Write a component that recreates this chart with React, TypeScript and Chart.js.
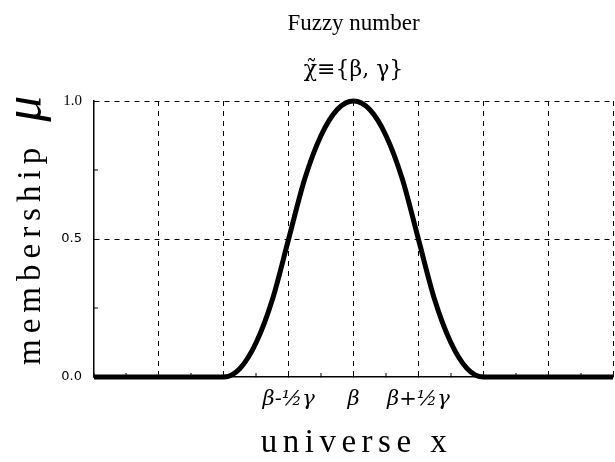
import React, { useEffect, useRef } from "react";
import { Chart, registerables } from "chart.js";

Chart.register(...registerables);

// Membership curve of the fuzzy number (universe position → μ)
const X_VALUES = [0, 1, 2, 2.25, 2.5, 2.75, 3, 3.25, 3.5, 3.75, 4, 4.25, 4.5, 4.75, 5, 5.25, 5.5, 5.75, 6, 7, 8];
const MU_VALUES = [0, 0, 0, 0.031, 0.125, 0.281, 0.5, 0.719, 0.875, 0.969, 1, 0.969, 0.875, 0.719, 0.5, 0.281, 0.125, 0.031, 0, 0, 0];

// Labelled positions on the universe axis
const X_TICK_VALUES = [3, 4, 5];
const X_TICK_LABELS = ["β-½γ", "β", "β+½γ"];

// Labelled membership levels
const Y_TICK_VALUES = [0, 0.5, 1];
const Y_TICK_LABELS = ["0.0", "0.5", "1.0"];

const TITLE = "Fuzzy number";
const SUBTITLE = "χ̃≡{β, γ}";
const X_TITLE = "universe x";
const Y_TITLE = "membership";
const Y_SYMBOL = "μ";

const SERIF = '"Liberation Serif", "DejaVu Serif", serif';
const WIDE_SERIF = '"DejaVu Serif", "Liberation Serif", serif';

// Draws the two axis captions with widened letter spacing
const axisCaptions = {
  id: "axisCaptions",
  afterDraw(chart: any) {
    const { ctx, chartArea } = chart;
    ctx.save();
    ctx.fillStyle = "#000";
    ctx.textBaseline = "alphabetic";

    // horizontal caption
    ctx.font = `33px ${SERIF}`;
    (ctx as any).letterSpacing = "5.5px";
    ctx.textAlign = "center";
    ctx.fillText(X_TITLE, (chartArea.left + chartArea.right) / 2 + 3, chart.height - 10);

    // vertical caption, reading upwards
    ctx.translate(40, chartArea.bottom - 12);
    ctx.rotate(-Math.PI / 2);
    ctx.textAlign = "left";
    ctx.font = `33px ${SERIF}`;
    (ctx as any).letterSpacing = "6px";
    ctx.fillText(Y_TITLE, 0, 0);
    const w = ctx.measureText(Y_TITLE).width;
    (ctx as any).letterSpacing = "0px";
    ctx.font = `italic 52px ${SERIF}`;
    ctx.fillText(Y_SYMBOL, w + 20, 0);
    ctx.restore();
  },
};

export default function App() {
  const ref = useRef<HTMLCanvasElement | null>(null);

  useEffect(() => {
    document.body.style.margin = "0";
    const canvas = ref.current;
    if (!canvas) return;

    const chart = new Chart(canvas, {
      type: "line",
      data: {
        datasets: [
          {
            data: X_VALUES.map((x, i) => ({ x, y: MU_VALUES[i] })),
            borderColor: "#000",
            borderWidth: 5,
            pointRadius: 0,
            fill: false,
            cubicInterpolationMode: "monotone",
            clip: false as any,
          },
        ],
      },
      options: {
        responsive: false,
        animation: false,
        layout: { autoPadding: false, padding: { left: 0, right: 2, top: 0, bottom: 0 } },
        plugins: {
          legend: { display: false },
          tooltip: { enabled: false },
          title: {
            display: true,
            fullSize: false,
            text: TITLE,
            color: "#000",
            font: { family: SERIF, size: 23, weight: "normal" },
            padding: { top: 10, bottom: 4 },
          },
          subtitle: {
            display: true,
            fullSize: false,
            text: SUBTITLE,
            color: "#000",
            font: { family: WIDE_SERIF, size: 22, weight: "normal" },
            padding: { top: 15, bottom: 18 },
          },
        },
        scales: {
          x: {
            type: "linear",
            min: 0,
            max: 8,
            afterFit: (scale: any) => {
              scale.height = 85;
            },
            ticks: {
              stepSize: 0.5,
              autoSkip: false,
              maxRotation: 0,
              padding: 0,
              color: "#000",
              font: { family: WIDE_SERIF, size: 21, style: "italic", lineHeight: 2.5 },
              callback: (v: any) => {
                const i = X_TICK_VALUES.indexOf(Number(v));
                return i >= 0 ? X_TICK_LABELS[i] : "";
              },
            },
            grid: {
              color: "#000",
              lineWidth: (c: any) => {
                const v = c.tick ? c.tick.value : 0;
                return v > 0 && Number.isInteger(v) ? 1 : 0;
              },
              drawTicks: true,
              tickLength: -4,
              tickColor: "#000",
              tickWidth: 1,
            },
            border: { display: true, color: "#000", width: 1.5, dash: [5, 5] },
          },
          y: {
            type: "linear",
            min: 0,
            max: 1,
            afterFit: (scale: any) => {
              scale.width = 94;
            },
            ticks: {
              stepSize: 0.25,
              autoSkip: false,
              padding: 16,
              color: "#000",
              font: (c: any) => ({
                family: c.tick && c.tick.value === 1 ? SERIF : '"DejaVu Sans", sans-serif',
                size: c.tick && c.tick.value === 1 ? 15 : 13,
              }),
              callback: (v: any) => {
                const i = Y_TICK_VALUES.indexOf(Number(v));
                return i >= 0 ? Y_TICK_LABELS[i] : "";
              },
            },
            grid: {
              color: "#000",
              lineWidth: (c: any) => {
                const v = c.tick ? c.tick.value : 0;
                return v === 0.5 || v === 1 ? 1 : 0;
              },
              drawTicks: true,
              tickLength: -4,
              tickColor: "#000",
              tickWidth: 1,
            },
            border: { display: true, color: "#000", width: 1.5, dash: [5, 5] },
          },
        },
      },
      plugins: [axisCaptions],
    });

    return () => chart.destroy();
  }, []);

  return (
    <div style={{ width: 615, height: 462 }}>
      <canvas ref={ref} width={615} height={462} style={{ display: "block" }} />
    </div>
  );
}
